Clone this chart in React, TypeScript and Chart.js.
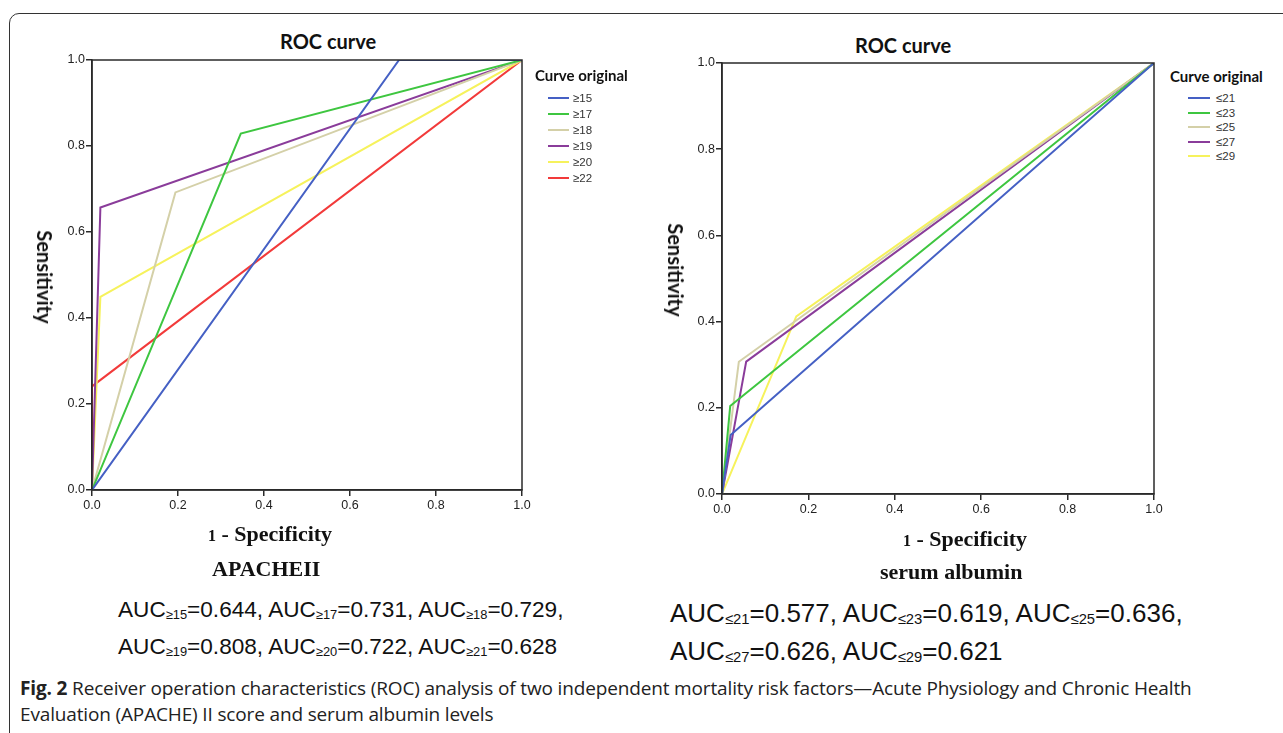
import React, { useEffect, useRef } from "react";
import { Chart, registerables } from "chart.js";

Chart.register(...registerables);

// ---------- Data ----------
const leftLabels = ["≥15", "≥17", "≥18", "≥19", "≥20", "≥22"];
const left15X = [0, 0.714, 1];
const left15Y = [0, 1, 1];
const left17X = [0, 0.346, 1];
const left17Y = [0, 0.829, 1];
const left18X = [0, 0.194, 1];
const left18Y = [0, 0.692, 1];
const left19X = [0, 0.0195, 1];
const left19Y = [0, 0.657, 1];
const left20X = [0, 0.0195, 1];
const left20Y = [0, 0.449, 1];
const left22X = [0, 0, 1];
const left22Y = [0, 0.241, 1];

const rightLabels = ["≤21", "≤23", "≤25", "≤27", "≤29"];
const right21X = [0, 0.02, 1];
const right21Y = [0, 0.137, 1];
const right23X = [0, 0.019, 1];
const right23Y = [0, 0.204, 1];
const right25X = [0, 0.039, 1];
const right25Y = [0, 0.307, 1];
const right27X = [0, 0.056, 1];
const right27Y = [0, 0.307, 1];
const right29X = [0, 0.172, 1];
const right29Y = [0, 0.412, 1];

const tickValues = [0, 0.2, 0.4, 0.6, 0.8, 1.0];

const leftColors = ["#4560c4", "#3ec640", "#d4d0a8", "#8a3c9a", "#f6f25c", "#f23a3a"];
const rightColors = ["#4560c4", "#3ec640", "#d4d0a8", "#8a3c9a", "#f6f25c"];

const leftAUCLine1 = [["≥15", "0.644"], ["≥17", "0.731"], ["≥18", "0.729"]];
const leftAUCLine2 = [["≥19", "0.808"], ["≥20", "0.722"], ["≥21", "0.628"]];
const rightAUCLine1 = [["≤21", "0.577"], ["≤23", "0.619"], ["≤25", "0.636"]];
const rightAUCLine2 = [["≤27", "0.626"], ["≤29", "0.621"]];

const zip = (xs: number[], ys: number[]) => xs.map((x, i) => ({ x, y: ys[i] }));

const leftSeries = [
  zip(left15X, left15Y),
  zip(left17X, left17Y),
  zip(left18X, left18Y),
  zip(left19X, left19Y),
  zip(left20X, left20Y),
  zip(left22X, left22Y),
];
const rightSeries = [
  zip(right21X, right21Y),
  zip(right23X, right23Y),
  zip(right25X, right25Y),
  zip(right27X, right27Y),
  zip(right29X, right29Y),
];

const framePlugin = {
  id: "frameBox",
  afterDatasetsDraw(chart: any) {
    const { ctx, chartArea } = chart;
    ctx.save();
    ctx.strokeStyle = "#2a2a2a";
    ctx.lineWidth = 1.5;
    ctx.strokeRect(chartArea.left, chartArea.top, chartArea.right - chartArea.left, chartArea.bottom - chartArea.top);
    ctx.restore();
  },
};

type RocProps = {
  series: { x: number; y: number }[][];
  labels: string[];
  colors: string[];
  left: number;
  top: number;
  width: number;
  height: number;
  padTop: number;
  padRight: number;
  yWidth: number;
  xHeight: number;
};

function RocChart(p: RocProps) {
  const ref = useRef<HTMLCanvasElement>(null);
  useEffect(() => {
    if (!ref.current) return;
    const axisCommon = {
      type: "linear" as const,
      min: 0,
      max: 1,
      border: { display: true, color: "#2a2a2a", width: 1.5 },
      grid: {
        display: true,
        drawOnChartArea: false,
        drawTicks: true,
        tickLength: 6,
        color: "#2a2a2a",
        lineWidth: 1.5,
      },
    };
    const chart = new Chart(ref.current, {
      type: "scatter",
      data: {
        datasets: p.series.map((s, i) => ({
          label: p.labels[i],
          data: s,
          showLine: true,
          borderColor: p.colors[i],
          backgroundColor: p.colors[i],
          borderWidth: 2,
          pointRadius: 0,
          tension: 0,
        })),
      },
      options: {
        animation: false,
        responsive: false,
        maintainAspectRatio: false,
        layout: { padding: { top: p.padTop, right: p.padRight, left: 0, bottom: 0 } },
        plugins: {
          legend: { display: false },
          tooltip: { enabled: false },
          title: { display: false },
        },
        scales: {
          x: {
            ...axisCommon,
            position: "bottom",
            afterBuildTicks: (scale: any) => {
              scale.ticks = tickValues.map((v) => ({ value: v }));
            },
            afterFit: (scale: any) => {
              scale.height = p.xHeight;
            },
            ticks: {
              padding: 2,
              color: "#222",
              font: { family: "Liberation Sans, Arial, sans-serif", size: 12.5 },
              callback: (v: any) => Number(v).toFixed(1),
              maxRotation: 0,
            },
          },
          y: {
            ...axisCommon,
            position: "left",
            afterBuildTicks: (scale: any) => {
              scale.ticks = tickValues.map((v) => ({ value: v }));
            },
            afterFit: (scale: any) => {
              scale.width = p.yWidth;
            },
            ticks: {
              padding: 1,
              color: "#222",
              font: { family: "Liberation Sans, Arial, sans-serif", size: 12.5 },
              callback: (v: any) => Number(v).toFixed(1),
            },
          },
        },
      },
      plugins: [framePlugin],
    } as any);
    return () => chart.destroy();
  }, []);
  return (
    <canvas
      ref={ref}
      width={p.width}
      height={p.height}
      style={{ position: "absolute", left: p.left, top: p.top, width: p.width, height: p.height }}
    />
  );
}

const abs = (left: number, top: number, extra: React.CSSProperties = {}): React.CSSProperties => ({
  position: "absolute",
  left,
  top,
  whiteSpace: "nowrap",
  ...extra,
});

function Legend({ left, top, labels, colors, rowH, lineX, lineW, textX }: any) {
  return (
    <div style={abs(left, top)}>
      <div
        style={{
          font: "bold 15px Lato, 'Open Sans', sans-serif",
          color: "#111",
          lineHeight: "18px",
        }}
      >
        Curve original
      </div>
      {labels.map((l: string, i: number) => (
        <div key={l} style={{ position: "absolute", left: 0, top: 24 + i * rowH, height: rowH, width: 120 }}>
          <div
            style={{
              position: "absolute",
              left: lineX,
              top: rowH / 2 - 1,
              width: lineW,
              height: 2,
              background: colors[i],
            }}
          />
          <div
            style={{
              position: "absolute",
              left: textX,
              top: 0,
              font: "11.5px 'Liberation Sans', Arial, sans-serif",
              color: "#333",
              lineHeight: rowH + "px",
            }}
          >
            {l}
          </div>
        </div>
      ))}
    </div>
  );
}

function AUCLine({ items, left, top, trailing, size }: any) {
  return (
    <div style={abs(left, top, { font: `${size}px 'Liberation Sans', Arial, sans-serif`, color: "#111" })}>
      {items.map((it: string[], i: number) => (
        <span key={i}>
          AUC
          <span style={{ fontSize: size * 0.57, position: "relative", top: 2 }}>{it[0]}</span>={it[1]}
          {i < items.length - 1 || trailing ? ", " : ""}
        </span>
      ))}
    </div>
  );
}

export default function App() {
  const serif = "bold 22px 'Liberation Serif', 'Times New Roman', serif";
  const titleFont = "bold 20px Lato, 'Open Sans', sans-serif";
  return (
    <div
      style={{
        position: "absolute",
        left: 0,
        top: 0,
        width: 1283,
        height: 733,
        overflow: "hidden",
        background: "#fff",
      }}
    >
      <div
        style={{
          position: "absolute",
          left: 9,
          top: 13,
          width: 1400,
          height: 900,
          border: "1.5px solid #333",
          borderRadius: 10,
          boxSizing: "border-box",
        }}
      />
      {/* Left chart */}
      <div style={abs(280, 29, { font: titleFont, color: "#111" })}>ROC curve</div>
      <RocChart
        series={leftSeries}
        labels={leftLabels}
        colors={leftColors}
        left={40}
        top={48}
        width={500}
        height={482}
        padTop={12}
        padRight={18}
        yWidth={52}
        xHeight={40}
      />
      <div
        style={abs(45, 277, {
          font: titleFont,
          color: "#111",
          transform: "translate(-50%, -50%) rotate(90deg)",
        })}
      >
        Sensitivity
      </div>
      <Legend
        left={535}
        top={66}
        labels={leftLabels}
        colors={leftColors}
        rowH={16}
        lineX={13}
        lineW={21}
        textX={38}
      />
      <div style={abs(208, 521, { font: serif, color: "#111" })}>
        <span style={{ fontSize: 16 }}>1</span> - Specificity
      </div>
      <div style={abs(212, 556, { font: serif, color: "#111" })}>APACHEII</div>
      <AUCLine items={leftAUCLine1} left={118} top={597} trailing size={22.6} />
      <AUCLine items={leftAUCLine2} left={118} top={634} size={22.6} />

      {/* Right chart */}
      <div style={abs(855, 33, { font: titleFont, color: "#111" })}>ROC curve</div>
      <RocChart
        series={rightSeries}
        labels={rightLabels}
        colors={rightColors}
        left={670}
        top={50}
        width={500}
        height={484}
        padTop={13}
        padRight={16}
        yWidth={52}
        xHeight={40}
      />
      <div
        style={abs(676, 270, {
          font: titleFont,
          color: "#111",
          transform: "translate(-50%, -50%) rotate(90deg)",
        })}
      >
        Sensitivity
      </div>
      <Legend
        left={1170}
        top={67}
        labels={rightLabels}
        colors={rightColors}
        rowH={14.5}
        lineX={18}
        lineW={22}
        textX={46}
      />
      <div style={abs(903, 526, { font: serif, color: "#111" })}>
        <span style={{ fontSize: 16 }}>1</span> - Specificity
      </div>
      <div style={abs(880, 559, { font: serif, color: "#111" })}>serum albumin</div>
      <AUCLine items={rightAUCLine1} left={670} top={598} trailing size={26} />
      <AUCLine items={rightAUCLine2} left={670} top={636} size={26} />

      {/* Caption */}
      <div
        style={abs(20, 675, {
          font: "19px 'Open Sans', sans-serif",
          color: "#222",
          lineHeight: "26px",
          whiteSpace: "nowrap",
          letterSpacing: -0.15,
        })}
      >
        <b>Fig. 2</b> Receiver operation characteristics (ROC) analysis of two independent mortality risk factors—Acute
        Physiology and Chronic Health
        <br />
        Evaluation (APACHE) II score and serum albumin levels
      </div>
    </div>
  );
}
